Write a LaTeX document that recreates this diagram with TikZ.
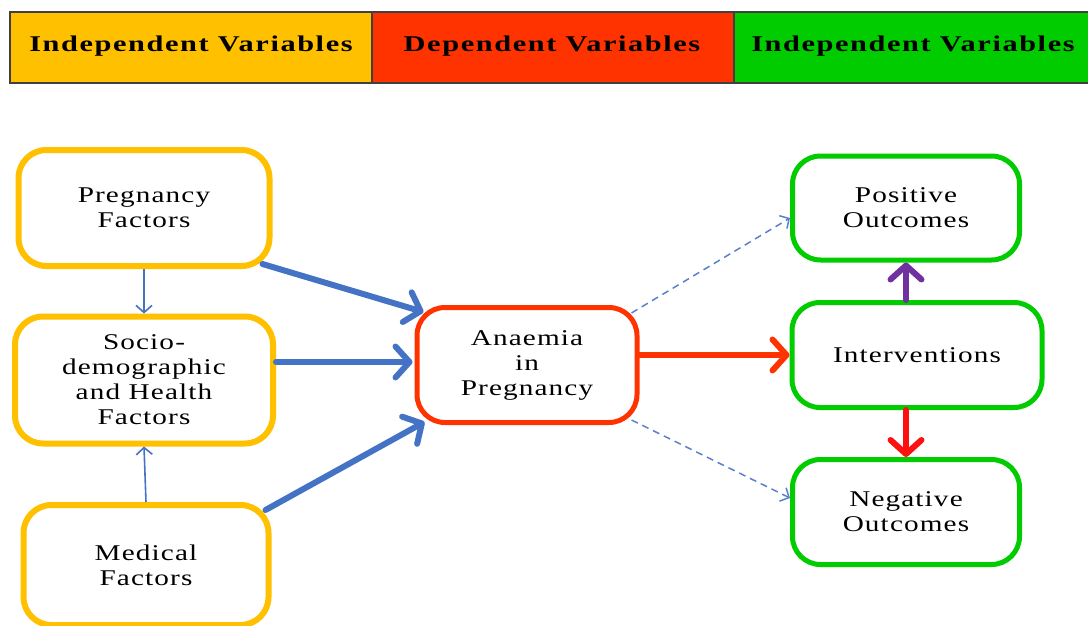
\documentclass[tikz,border=0pt]{standalone}
\usepackage{fontspec}
\setmainfont{Liberation Serif}
\newfontfamily\bodyfont[FakeStretch=1.3,LetterSpace=5]{Liberation Serif}
\newfontfamily\headfont[FakeStretch=1.35,LetterSpace=7]{Liberation Serif}
\usetikzlibrary{arrows.meta,calc}
\definecolor{cyellow}{HTML}{FFC000}
\definecolor{cred}{HTML}{FF3300}
\definecolor{cgreen}{HTML}{00CC00}
\definecolor{cblue}{HTML}{4472C4}
\definecolor{cdash}{HTML}{5A80CC}
\definecolor{cpurple}{HTML}{7030A0}
\definecolor{cred2}{HTML}{FF1010}
\definecolor{cframe}{HTML}{404040}
\tikzset{
  box/.style={draw, rounded corners=28pt, fill=white, align=center,
    font=\bodyfont\fontsize{22.5}{25}\selectfont},
  ybox/.style={box, draw=cyellow, line width=6pt},
  rbox/.style={box, draw=cred, line width=5pt},
  gbox/.style={box, draw=cgreen, line width=5pt},
  hcell/.style={draw=cframe, line width=1.5pt, minimum height=71pt, inner sep=0pt,
    font=\headfont\fontsize{22.5}{26}\selectfont\bfseries},
  thick arrow/.style={line width=6pt, line cap=round,
    -{Straight Barb[length=14pt,width=31pt,round]}},
  thin arrow/.style={line width=1.6pt, draw=cblue,
    -{Straight Barb[length=7pt,width=16pt]}},
  dash arrow/.style={line width=1.5pt, draw=cdash, dash pattern=on 7pt off 5pt,
    -{Straight Barb[length=7pt,width=15pt]}},
}
\begin{document}
\begin{tikzpicture}[x=1pt,y=-1pt]
\useasboundingbox (0,0) rectangle (1088,626);
\clip (0,0) rectangle (1088,626);
% header
\node[hcell, fill=cyellow, minimum width=362pt] (h1) at (191,47.5) {};
\node[hcell, fill=cred, minimum width=362pt] (h2) at (553,47.5) {};
\node[hcell, fill=cgreen, minimum width=362pt] (h3) at (915,47.5) {};
\node[font=\headfont\fontsize{22.5}{26}\selectfont\bfseries, inner sep=0pt] (t1) at (191,46) {Independent Variables};
\node[font=\headfont\fontsize{22.5}{26}\selectfont\bfseries, inner sep=0pt] (t2) at (552,46) {Dependent Variables};
\node[font=\headfont\fontsize{22.5}{26}\selectfont\bfseries, inner sep=0pt] (t3) at (913,46) {Independent Variables};
% nodes
\node[ybox, minimum width=251pt, minimum height=116pt] (preg) at (144,208) {Pregnancy\\Factors};
\node[ybox, minimum width=258pt, minimum height=127pt] (socio) at (144,380) {Socio-\\demographic\\and Health\\Factors};
\node[ybox, minimum width=245pt, minimum height=120pt] (med) at (146,565) {Medical\\Factors};
\node[rbox, minimum width=220pt, minimum height=115pt] (anae) at (527,365) {Anaemia\\in\\Pregnancy};
\node[gbox, minimum width=227pt, minimum height=104pt] (pos) at (906,208) {Positive\\Outcomes};
\node[gbox, minimum width=250pt, minimum height=105pt] (int) at (917,355) {Interventions};
\node[gbox, minimum width=227pt, minimum height=105pt] (neg) at (906,512) {Negative\\Outcomes};
% connectors
\draw[thick arrow, draw=cblue] ($(preg.south east)+(-10,-5)$) -- ($(anae.north west)+(9,7)$);
\draw[thick arrow, draw=cblue] ($(socio.east)+(0,-18)$) -- ($(anae.west)+(-2,-3)$);
\draw[thick arrow, draw=cblue] ($(med.north east)+(-6,8)$) -- ($(anae.south west)+(10,-3)$);
\draw[thin arrow] (preg.south) -- (socio.north);
\draw[thin arrow] (med.north) -- (socio.south);
\draw[dash arrow] ($(anae.north east)+(-8,8)$) -- ($(pos.west)+(0,10)$);
\draw[dash arrow] ($(anae.south east)+(-8,-5)$) -- ($(neg.west)+(0,-14)$);
\draw[thick arrow, draw=cred] (anae.east |- int.west) -- (int.west);
\draw[thick arrow, draw=cpurple] (pos.south |- int.north) -- (pos.south);
\draw[thick arrow, draw=cred2] (neg.north |- int.south) -- (neg.north);
\end{tikzpicture}
\end{document}
